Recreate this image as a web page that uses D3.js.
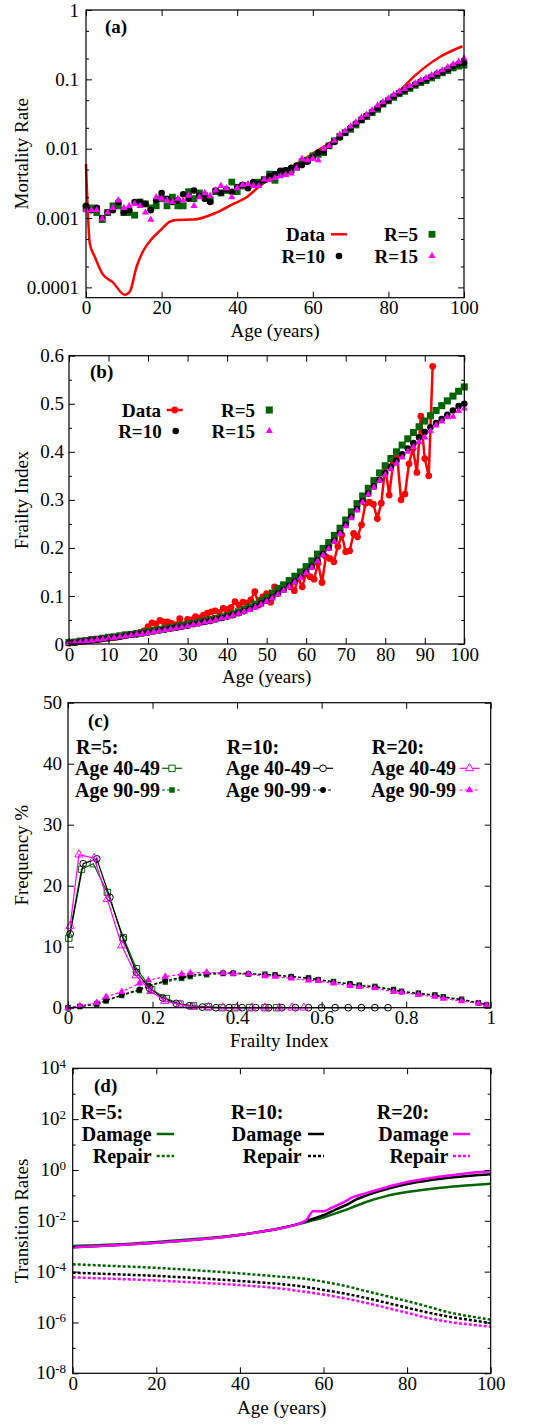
<!DOCTYPE html>
<html>
<head>
<meta charset="utf-8">
<script src="https://cdn.jsdelivr.net/npm/d3@7"></script>
<style>
  body { margin: 0; background: #fff; }
  svg { display: block; }
</style>
</head>
<body>
<svg width="543" height="1427"></svg>
<script>
// ---------- data ----------
// (a) mortality rate vs age
var mortDataAge = [0, 1, 2.4, 4.4, 7, 10.3, 11.6, 13.4, 15.2, 17.4, 19.6, 22.2, 24, 28.4, 34.5, 39, 42.5, 46, 49.5, 54.8, 60, 65.4, 70.7, 76, 81.2, 87.4, 93.6, 99.6];
var mortData = [0.006, 0.00043, 0.00027, 0.000155, 0.00012, 0.000078, 0.000087, 0.0002, 0.00034, 0.0005, 0.00066, 0.00089, 0.00094, 0.00095, 0.0012, 0.0016, 0.002, 0.0029, 0.0039, 0.0056, 0.0085, 0.013, 0.021, 0.033, 0.055, 0.118, 0.21, 0.30];

var ageSim = [0, 1.43, 2.86, 4.29, 5.71, 7.14, 8.57, 10, 11.43, 12.86, 14.29, 15.71, 17.14, 18.57, 20, 21.43, 22.86, 24.29, 25.71, 27.14, 28.57, 30, 31.43, 32.86, 34.29, 35.71, 37.14, 38.57, 40, 41.43, 42.86, 44.29, 45.71, 47.14, 48.57, 50, 51.43, 52.86, 54.29, 55.71, 57.14, 58.57, 60, 61.43, 62.86, 64.29, 65.71, 67.14, 68.57, 70, 71.43, 72.86, 74.29, 75.71, 77.14, 78.57, 80, 81.43, 82.86, 84.29, 85.71, 87.14, 88.57, 90, 91.43, 92.86, 94.29, 95.71, 97.14, 98.57, 100];

var mortR5 = [0.0014, 0.0014, 0.0012, 0.00095, 0.0012, 0.0015, 0.0015, 0.0012, 0.0012, 0.0011, 0.0017, 0.0016, 0.0014, 0.0015, 0.0019, 0.0015, 0.002, 0.0015, 0.0015, 0.0024, 0.0019, 0.0023, 0.0021, 0.0018, 0.0024, 0.0023, 0.0025, 0.0033, 0.0024, 0.0029, 0.0029, 0.0031, 0.0033, 0.0036, 0.0043, 0.0035, 0.0045, 0.0048, 0.0049, 0.0054, 0.0065, 0.0068, 0.0079, 0.0083, 0.0088, 0.011, 0.013, 0.015, 0.017, 0.019, 0.022, 0.026, 0.029, 0.033, 0.037, 0.044, 0.049, 0.055, 0.062, 0.067, 0.074, 0.082, 0.09, 0.096, 0.105, 0.113, 0.124, 0.134, 0.146, 0.155, 0.16];
var mortR10 = [0.0015, 0.0013, 0.0014, 0.001, 0.0012, 0.0013, 0.0017, 0.0012, 0.0013, 0.0017, 0.0017, 0.0016, 0.0013, 0.0018, 0.0023, 0.0019, 0.0017, 0.0018, 0.0022, 0.0019, 0.0025, 0.0021, 0.0019, 0.0017, 0.0025, 0.0023, 0.0026, 0.0024, 0.0028, 0.003, 0.0027, 0.0033, 0.0031, 0.0035, 0.004, 0.0043, 0.0048, 0.0049, 0.0053, 0.0057, 0.0058, 0.0065, 0.0075, 0.0088, 0.0091, 0.011, 0.0125, 0.0145, 0.017, 0.02, 0.023, 0.026, 0.03, 0.034, 0.039, 0.045, 0.05, 0.057, 0.064, 0.07, 0.077, 0.085, 0.093, 0.1, 0.11, 0.12, 0.128, 0.14, 0.155, 0.168, 0.175];
var mortR15 = [0.0013, 0.0013, 0.0013, 0.00098, 0.0012, 0.0014, 0.0018, 0.0014, 0.0015, 0.0016, 0.0015, 0.0012, 0.00095, 0.002, 0.0019, 0.0018, 0.0017, 0.0019, 0.0018, 0.0021, 0.0015, 0.002, 0.0023, 0.0021, 0.0025, 0.0029, 0.0027, 0.002, 0.0027, 0.003, 0.0031, 0.0029, 0.0029, 0.0036, 0.0035, 0.0038, 0.004, 0.0042, 0.0044, 0.0052, 0.0072, 0.0068, 0.0072, 0.0068, 0.01, 0.011, 0.013, 0.016, 0.018, 0.021, 0.024, 0.028, 0.031, 0.036, 0.042, 0.047, 0.053, 0.06, 0.067, 0.073, 0.08, 0.088, 0.097, 0.105, 0.115, 0.125, 0.135, 0.15, 0.165, 0.18, 0.2];

// (b) frailty index vs age
var fiDataAge = [0, 1, 2, 3, 4, 5, 6, 7, 8, 9, 10, 11, 12, 13, 14, 15, 16, 17, 18, 19, 20, 21, 22, 23, 24, 25, 26, 27, 28, 29, 30, 31, 32, 33, 34, 35, 36, 37, 38, 39, 40, 41, 42, 43, 44, 45, 46, 47, 48, 49, 50, 51, 52, 53, 54, 55, 56, 57, 58, 59, 60, 61, 62, 63, 64, 65, 66, 67, 68, 69, 70, 71, 72, 73, 74, 75, 76, 77, 78, 79, 80, 81, 82, 83, 84, 85, 86, 87, 88, 89, 90, 91, 92];
var fiData = [0.002, 0.003, 0.004, 0.005, 0.006, 0.007, 0.008, 0.009, 0.010, 0.011, 0.012, 0.013, 0.014, 0.016, 0.017, 0.019, 0.020, 0.022, 0.024, 0.028,
  0.036, 0.044, 0.042, 0.049, 0.046, 0.046, 0.043, 0.040, 0.053, 0.040, 0.051, 0.050, 0.057, 0.054, 0.060, 0.064, 0.067, 0.069, 0.066, 0.074,
  0.072, 0.076, 0.088, 0.081, 0.087, 0.085, 0.092, 0.109, 0.081, 0.098, 0.105, 0.087, 0.119, 0.116, 0.119, 0.121, 0.119, 0.111, 0.137, 0.119,
  0.147, 0.140, 0.135, 0.168, 0.128, 0.182, 0.178, 0.171, 0.203, 0.227, 0.192, 0.194, 0.230, 0.223, 0.248, 0.293, 0.295, 0.291, 0.261, 0.293,
  0.369, 0.310, 0.376, 0.393, 0.300, 0.312, 0.375, 0.407, 0.357, 0.474, 0.386, 0.350, 0.578];
var fiR5 = [0.003, 0.004, 0.006, 0.007, 0.009, 0.010, 0.012, 0.014, 0.015, 0.017, 0.019, 0.020, 0.022, 0.024, 0.026, 0.028, 0.030, 0.032, 0.034, 0.036, 0.039, 0.041, 0.043, 0.046, 0.048, 0.051, 0.053, 0.056, 0.059, 0.063, 0.067, 0.072, 0.077, 0.083, 0.090, 0.097, 0.106, 0.115, 0.123, 0.132, 0.141, 0.150, 0.161, 0.173, 0.187, 0.199, 0.211, 0.226, 0.241, 0.258, 0.275, 0.292, 0.308, 0.324, 0.340, 0.356, 0.371, 0.386, 0.400, 0.414, 0.427, 0.440, 0.452, 0.464, 0.475, 0.486, 0.496, 0.506, 0.516, 0.526, 0.535];
var fiR10 = [0.002, 0.003, 0.005, 0.006, 0.008, 0.009, 0.011, 0.012, 0.014, 0.015, 0.017, 0.019, 0.020, 0.022, 0.024, 0.026, 0.028, 0.030, 0.032, 0.034, 0.036, 0.038, 0.041, 0.043, 0.046, 0.048, 0.051, 0.054, 0.057, 0.060, 0.064, 0.068, 0.073, 0.078, 0.084, 0.090, 0.097, 0.105, 0.113, 0.121, 0.130, 0.140, 0.150, 0.161, 0.174, 0.187, 0.200, 0.215, 0.231, 0.248, 0.265, 0.281, 0.297, 0.313, 0.328, 0.342, 0.356, 0.369, 0.382, 0.395, 0.407, 0.418, 0.430, 0.441, 0.451, 0.460, 0.468, 0.477, 0.486, 0.495, 0.500];
var fiR15 = [0.002, 0.003, 0.004, 0.006, 0.007, 0.009, 0.010, 0.012, 0.013, 0.015, 0.016, 0.018, 0.020, 0.021, 0.023, 0.025, 0.027, 0.029, 0.031, 0.033, 0.035, 0.037, 0.040, 0.042, 0.045, 0.047, 0.050, 0.053, 0.056, 0.059, 0.063, 0.067, 0.071, 0.076, 0.082, 0.088, 0.095, 0.103, 0.111, 0.119, 0.128, 0.138, 0.148, 0.159, 0.172, 0.185, 0.198, 0.213, 0.229, 0.245, 0.262, 0.278, 0.295, 0.311, 0.326, 0.340, 0.352, 0.364, 0.376, 0.388, 0.400, 0.410, 0.420, 0.430, 0.443, 0.455, 0.463, 0.472, 0.473, 0.485, 0.490];

// (c) frailty distributions (frequency %)
var fiBinsR5a = [0.002, 0.032, 0.06, 0.093, 0.131, 0.162, 0.198, 0.233, 0.265, 0.297, 0.332, 0.364, 0.395, 0.43, 0.466, 0.494];
var freqR5a = [11.4, 22.7, 23.6, 18.9, 11.5, 6.4, 3.0, 1.5, 0.6, 0.3, 0.15, 0, 0, 0, 0, 0];
var fiBinsR10a = [0.005, 0.036, 0.068, 0.099, 0.130, 0.162, 0.193, 0.224, 0.256, 0.287, 0.318, 0.350, 0.381, 0.412, 0.444, 0.475, 0.506, 0.538, 0.569, 0.600, 0.632, 0.663, 0.694, 0.726, 0.757];
var freqR10a = [12.1, 23.6, 24.4, 18.1, 11.3, 5.8, 3.2, 1.6, 0.7, 0.3, 0.1, 0, 0, 0, 0, 0, 0, 0, 0, 0, 0, 0, 0, 0, 0];
var fiBinsR20a = [0.005, 0.026, 0.062, 0.093, 0.127, 0.161, 0.196, 0.229, 0.265, 0.297, 0.332, 0.366, 0.399, 0.435, 0.466, 0.5, 0.53, 0.558];
var freqR20a = [13.4, 25.1, 24.5, 17.8, 10.2, 5.3, 2.7, 1.1, 0.5, 0.15, 0.05, 0, 0, 0, 0, 0, 0, 0];
var fiBinsOld = [0, 0.028, 0.068, 0.09, 0.127, 0.169, 0.19, 0.23, 0.269, 0.289, 0.328, 0.367, 0.391, 0.427, 0.466, 0.49, 0.528, 0.569, 0.592, 0.628, 0.667, 0.689, 0.726, 0.77, 0.789, 0.829, 0.868, 0.888, 0.931, 0.971, 0.99];
var freqR5b = [0, 0.2, 0.5, 1.1, 2.0, 2.8, 3.6, 4.2, 4.8, 5.1, 5.4, 5.6, 5.6, 5.5, 5.5, 5.4, 5.1, 4.9, 4.6, 4.3, 3.9, 3.7, 3.5, 3.0, 2.7, 2.4, 2.1, 1.8, 1.4, 0.8, 0.5];
var freqR10b = [0, 0.2, 0.7, 1.2, 2.1, 3.0, 3.6, 4.4, 5.0, 5.3, 5.6, 5.7, 5.7, 5.6, 5.4, 5.3, 5.1, 4.8, 4.6, 4.2, 3.9, 3.6, 3.4, 2.9, 2.6, 2.3, 2.0, 1.7, 1.3, 0.8, 0.4];
var freqR20b = [0, 0.3, 0.8, 1.8, 2.6, 4.0, 4.5, 5.1, 5.5, 5.7, 5.8, 5.7, 5.6, 5.5, 5.2, 5.1, 4.8, 4.5, 4.4, 4.0, 3.6, 3.4, 3.2, 2.6, 2.5, 2.1, 1.8, 1.5, 1.1, 0.7, 0.4];

// (d) transition rates vs age
var dmgAgeR5 = [0, 10, 20, 30, 40, 45, 50, 54, 57, 60, 63, 66, 70, 75, 80, 85, 90, 95, 100];
var dmgR5 = [1.02e-3, 1.17e-3, 1.48e-3, 1.95e-3, 2.82e-3, 3.7e-3, 5.2e-3, 7.4e-3, 0.010, 0.0135, 0.020, 0.0295, 0.0537, 0.0933, 0.135, 0.174, 0.214, 0.251, 0.288];
var dmgAgeR10 = [0, 10, 20, 30, 40, 45, 50, 54, 57, 60, 63, 66, 68, 70, 73, 76, 80, 85, 90, 95, 100];
var dmgR10 = [9.1e-4, 1.1e-3, 1.38e-3, 1.82e-3, 2.75e-3, 3.7e-3, 5.2e-3, 7.6e-3, 0.0112, 0.0166, 0.0282, 0.0468, 0.0708, 0.0955, 0.141, 0.195, 0.282, 0.389, 0.49, 0.589, 0.676];
var dmgAgeR20 = [0, 10, 20, 30, 40, 45, 50, 54, 56, 57.5, 60, 62, 65, 67, 70, 73, 76, 80, 85, 90, 95, 100];
var dmgR20 = [9.1e-4, 1.1e-3, 1.38e-3, 1.82e-3, 2.75e-3, 3.7e-3, 5.2e-3, 7.6e-3, 0.0112, 0.024, 0.024, 0.033, 0.056, 0.085, 0.12, 0.166, 0.234, 0.339, 0.468, 0.60, 0.76, 0.89];
var repAge = [0, 10, 20, 30, 40, 50, 55, 60, 65, 70, 75, 80, 85, 90, 95, 100];
var repR5 = [1.95e-4, 1.66e-4, 1.41e-4, 1.12e-4, 8.5e-5, 6.3e-5, 5.4e-5, 4.0e-5, 2.8e-5, 1.74e-5, 1.1e-5, 6.9e-6, 4.2e-6, 2.5e-6, 1.74e-6, 1.3e-6];
var repR10 = [9.1e-5, 7.9e-5, 6.8e-5, 5.5e-5, 4.3e-5, 3.2e-5, 2.6e-5, 1.9e-5, 1.38e-5, 9.3e-6, 6.0e-6, 3.8e-6, 2.45e-6, 1.7e-6, 1.26e-6, 9.5e-7];
var repR20 = [6.0e-5, 5.2e-5, 4.5e-5, 3.7e-5, 2.95e-5, 2.14e-5, 1.66e-5, 1.26e-5, 8.9e-6, 6.0e-6, 3.8e-6, 2.4e-6, 1.5e-6, 1.05e-6, 8.3e-7, 6.9e-7];

// tick values
var ageTicks20 = [0, 20, 40, 60, 80, 100];
var ageTicks10 = [0, 10, 20, 30, 40, 50, 60, 70, 80, 90, 100];
var mortTicks = [0.0001, 0.001, 0.01, 0.1, 1];
var mortMinor = [0.0002, 0.0005, 0.002, 0.005, 0.02, 0.05, 0.2, 0.5];
var fiTicks = [0, 0.1, 0.2, 0.3, 0.4, 0.5, 0.6];
var fiMinor = [0.05, 0.15, 0.25, 0.35, 0.45, 0.55];
var freqTicks = [0, 10, 20, 30, 40, 50];
var binTicks = [0, 0.2, 0.4, 0.6, 0.8, 1];
var rateTicks = [1e-8, 1e-6, 1e-4, 1e-2, 1, 1e2, 1e4];
var rateExp = ["-8", "-6", "-4", "-2", "0", "2", "4"];
var rateMinor = [1e-7, 1e-5, 1e-3, 1e-1, 10, 1e3];

var GREEN = "#006400", MAG = "#ff00ff", RED = "#ff0000";
var FONT = "'Liberation Serif', 'Times New Roman', Times, serif";

var svg = d3.select("svg").attr("font-family", FONT);

var symType = {square: d3.symbolSquare, circle: d3.symbolCircle, triangle: d3.symbolTriangle};

function marks(g, xs, ys, x, y, type, size, fill, stroke) {
    g.append("g").selectAll("path")
        .data(xs)
        .enter().append("path")
        .attr("transform", function(d, i) { return "translate(" + x(d) + "," + y(ys[i]) + ")"; })
        .attr("d", d3.symbol().type(symType[type]).size(size))
        .attr("fill", fill)
        .attr("stroke", stroke || "none")
        .attr("stroke-width", 1);
}

function oneMark(g, cx, cy, type, size, fill, stroke) {
    g.append("path")
        .attr("transform", "translate(" + cx + "," + cy + ")")
        .attr("d", d3.symbol().type(symType[type]).size(size))
        .attr("fill", fill)
        .attr("stroke", stroke || "none")
        .attr("stroke-width", 1);
}

function path(g, xs, ys, x, y, color, width, dash, curve) {
    var line = d3.line()
        .x(function(d) { return x(d); })
        .y(function(d, i) { return y(ys[i]); });
    if (curve) line.curve(curve);
    g.append("path")
        .datum(xs)
        .attr("d", line)
        .attr("fill", "none")
        .attr("stroke", color)
        .attr("stroke-width", width)
        .attr("stroke-dasharray", dash || null);
}

function txt(g, x, y, s, opts) {
    opts = opts || {};
    return g.append("text")
        .attr("x", x).attr("y", y)
        .attr("font-size", opts.size || 19)
        .attr("font-weight", opts.bold ? "bold" : null)
        .attr("text-anchor", opts.anchor || "start")
        .attr("dy", opts.dy || null)
        .attr("transform", opts.rotate ? "rotate(-90," + x + "," + y + ")" : null)
        .text(s);
}

// frame with gnuplot-like inward mirrored ticks
function frame(x, y, o) {
    var g = svg.append("g");
    var x0 = x.range()[0], x1 = x.range()[1], yb = y.range()[0], yt = y.range()[1];

    function ax(axis, tx, ty, vals, len, fmt, pad) {
        var a = g.append("g")
            .attr("transform", "translate(" + tx + "," + ty + ")")
            .call(axis.tickValues(vals).tickSize(-len).tickPadding(pad || 3).tickFormat(fmt || function() { return ""; }));
        a.select(".domain").remove();
        a.attr("font-family", FONT).attr("font-size", 19);
        a.selectAll("line").attr("stroke", "#000");
        a.selectAll("text").attr("fill", "#000");
        return a;
    }

    ax(d3.axisBottom(x), 0, yb, o.xTicks, 6, o.xFmt, o.xPad);
    ax(d3.axisTop(x), 0, yt, o.xTicks, 6);
    ax(d3.axisLeft(y), x0, 0, o.yTicks, 6, o.yFmt, o.yPad);
    ax(d3.axisRight(y), x1, 0, o.yTicks, 6);
    if (o.yMinor) {
        ax(d3.axisLeft(y), x0, 0, o.yMinor, 3);
        ax(d3.axisRight(y), x1, 0, o.yMinor, 3);
    }

    g.append("rect")
        .attr("x", x0).attr("y", yt)
        .attr("width", x1 - x0).attr("height", yb - yt)
        .attr("fill", "none")
        .attr("stroke", "#000")
        .attr("stroke-width", 1.2);
    return g;
}

var fmt = d3.format("~g");

// ================= (a) =================
var xA = d3.scaleLinear().domain([0, 100]).range([86, 464]),
    yA = d3.scaleLog().domain([7.1e-5, 1]).range([297.7, 10]);

var gA = svg.append("g");
path(gA, mortDataAge, mortData, xA, yA, RED, 2.5, null, d3.curveMonotoneX);
marks(gA, ageSim, mortR5, xA, yA, "square", 46, GREEN);
marks(gA, ageSim, mortR10, xA, yA, "circle", 34, "#000");
marks(gA, ageSim, mortR15, xA, yA, "triangle", 22, MAG);

frame(xA, yA, {xTicks: ageTicks20, xFmt: fmt, yTicks: mortTicks, yMinor: mortMinor, yFmt: fmt, yPad: 7});

txt(gA, 105, 26, "(a)", {bold: true, dy: "0.35em"});
txt(gA, 275, 337, "Age (years)", {anchor: "middle"});
txt(gA, 28, 153.8, "Mortality Rate", {anchor: "middle", rotate: true});

// legend (a)
txt(gA, 325, 234.3, "Data", {bold: true, anchor: "end", dy: "0.35em"});
gA.append("line").attr("x1", 331).attr("x2", 347).attr("y1", 234.3).attr("y2", 234.3)
    .attr("stroke", RED).attr("stroke-width", 2.5);
txt(gA, 418, 234.3, "R=5", {bold: true, anchor: "end", dy: "0.35em"});
oneMark(gA, 432, 234.3, "square", 46, GREEN);
txt(gA, 325, 256, "R=10", {bold: true, anchor: "end", dy: "0.35em"});
oneMark(gA, 339, 256, "circle", 34, "#000");
txt(gA, 418, 256, "R=15", {bold: true, anchor: "end", dy: "0.35em"});
oneMark(gA, 432, 256, "triangle", 22, MAG);

// ================= (b) =================
var xB = d3.scaleLinear().domain([0, 100]).range([69, 464.3]),
    yB = d3.scaleLinear().domain([0, 0.6]).range([644, 355.7]);

var gB = svg.append("g");
path(gB, fiDataAge, fiData, xB, yB, RED, 2.5);
marks(gB, fiDataAge, fiData, xB, yB, "circle", 36, RED);
marks(gB, ageSim, fiR5, xB, yB, "square", 50, GREEN);
marks(gB, ageSim, fiR10, xB, yB, "circle", 34, "#000");
marks(gB, ageSim, fiR15, xB, yB, "triangle", 22, MAG);

frame(xB, yB, {xTicks: ageTicks10, xFmt: fmt, yTicks: fiTicks, yMinor: fiMinor, yFmt: fmt, yPad: 5});

txt(gB, 90, 371.7, "(b)", {bold: true, dy: "0.35em"});
txt(gB, 266.7, 682.5, "Age (years)", {anchor: "middle"});
txt(gB, 28, 500, "Frailty Index", {anchor: "middle", rotate: true});

// legend (b)
txt(gB, 161, 410, "Data", {bold: true, anchor: "end", dy: "0.35em"});
gB.append("line").attr("x1", 166.7).attr("x2", 182.7).attr("y1", 410).attr("y2", 410)
    .attr("stroke", RED).attr("stroke-width", 2.5);
oneMark(gB, 174.7, 410, "circle", 36, RED);
txt(gB, 255, 410, "R=5", {bold: true, anchor: "end", dy: "0.35em"});
oneMark(gB, 269.3, 410, "square", 50, GREEN);
txt(gB, 161.7, 431, "R=10", {bold: true, anchor: "end", dy: "0.35em"});
oneMark(gB, 175.7, 431, "circle", 34, "#000");
txt(gB, 255, 431, "R=15", {bold: true, anchor: "end", dy: "0.35em"});
oneMark(gB, 269.3, 431, "triangle", 22, MAG);

// ================= (c) =================
var xC = d3.scaleLinear().domain([0, 1]).range([68, 490.7]),
    yC = d3.scaleLinear().domain([0, 50]).range([1007.7, 702.7]);

var gC = svg.append("g");
// 90-99 (dashed, filled)
path(gC, fiBinsOld, freqR5b, xC, yC, GREEN, 1.2, "3,2");
marks(gC, fiBinsOld, freqR5b, xC, yC, "square", 30, GREEN);
path(gC, fiBinsOld, freqR10b, xC, yC, "#000", 1.2, "3,2");
marks(gC, fiBinsOld, freqR10b, xC, yC, "circle", 26, "#000");
path(gC, fiBinsOld, freqR20b, xC, yC, MAG, 1.2, "3,2");
marks(gC, fiBinsOld, freqR20b, xC, yC, "triangle", 24, MAG);
// 40-49 (solid, open)
path(gC, fiBinsR5a, freqR5a, xC, yC, GREEN, 1.2);
marks(gC, fiBinsR5a, freqR5a, xC, yC, "square", 40, "none", GREEN);
path(gC, fiBinsR10a, freqR10a, xC, yC, "#000", 1.2);
marks(gC, fiBinsR10a, freqR10a, xC, yC, "circle", 36, "none", "#000");
path(gC, fiBinsR20a, freqR20a, xC, yC, MAG, 1.2);
marks(gC, fiBinsR20a, freqR20a, xC, yC, "triangle", 30, "none", MAG);

frame(xC, yC, {xTicks: binTicks, xFmt: fmt, yTicks: freqTicks, yFmt: fmt, yPad: 6});

txt(gC, 88, 720, "(c)", {bold: true, dy: "0.35em"});
txt(gC, 279.3, 1046.5, "Frailty Index", {anchor: "middle"});
txt(gC, 28, 855.2, "Frequency %", {anchor: "middle", rotate: true});

// legend (c)
var legC = [
    {head: "R=5:", hx: 76, end: 160, cx: 172, color: GREEN, type: "square", sa: 40, sb: 30},
    {head: "R=10:", hx: 226.7, end: 310.7, cx: 323, color: "#000", type: "circle", sa: 36, sb: 26},
    {head: "R=20:", hx: 371.7, end: 456, cx: 469.5, color: MAG, type: "triangle", sa: 30, sb: 24}
];
legC.forEach(function(c) {
    txt(gC, c.hx, 746.7, c.head, {bold: true, size: 20, dy: "0.35em"});
    txt(gC, c.end, 768.3, "Age 40-49", {bold: true, size: 20, anchor: "end", dy: "0.35em"});
    txt(gC, c.end, 790, "Age 90-99", {bold: true, size: 20, anchor: "end", dy: "0.35em"});
    gC.append("line").attr("x1", c.cx - 10).attr("x2", c.cx + 10).attr("y1", 768.3).attr("y2", 768.3)
        .attr("stroke", c.color).attr("stroke-width", 1.2);
    oneMark(gC, c.cx, 768.3, c.type, c.sa, "#fff", c.color);
    gC.append("line").attr("x1", c.cx - 10).attr("x2", c.cx + 10).attr("y1", 790).attr("y2", 790)
        .attr("stroke", c.color).attr("stroke-width", 1.2).attr("stroke-dasharray", "3,2");
    oneMark(gC, c.cx, 790, c.type, c.sb, c.color);
});

// ================= (d) =================
var xD = d3.scaleLinear().domain([0, 100]).range([72.7, 490.7]),
    yD = d3.scaleLog().domain([1e-8, 1e4]).range([1373.3, 1068.3]);

var gD = svg.append("g");
path(gD, repAge, repR5, xD, yD, GREEN, 2.5, "3,2", d3.curveMonotoneX);
path(gD, repAge, repR10, xD, yD, "#000", 2.5, "3,2", d3.curveMonotoneX);
path(gD, repAge, repR20, xD, yD, MAG, 2.5, "3,2", d3.curveMonotoneX);
path(gD, dmgAgeR5, dmgR5, xD, yD, GREEN, 2.5, null, d3.curveMonotoneX);
path(gD, dmgAgeR10, dmgR10, xD, yD, "#000", 2.5, null, d3.curveMonotoneX);
path(gD, dmgAgeR20, dmgR20, xD, yD, MAG, 2.5, null, d3.curveMonotoneX);

frame(xD, yD, {xTicks: ageTicks20, xFmt: fmt, yTicks: rateTicks, yMinor: rateMinor});

// y labels as 10^n
gD.selectAll("text.rate")
    .data(rateTicks)
    .enter().append("text")
    .attr("class", "rate")
    .attr("x", 66)
    .attr("y", function(d) { return yD(d); })
    .attr("dy", "0.32em")
    .attr("font-size", 19)
    .attr("text-anchor", "end")
    .each(function(d, i) {
        var t = d3.select(this);
        t.append("tspan").text("10");
        t.append("tspan").attr("dy", "-0.5em").attr("font-size", 13).text(rateExp[i]);
    });

txt(gD, 94, 1085, "(d)", {bold: true, dy: "0.35em"});
txt(gD, 281.7, 1414, "Age (years)", {anchor: "middle"});
txt(gD, 28, 1220.8, "Transition Rates", {anchor: "middle", rotate: true});

// legend (d)
var legD = [
    {head: "R=5:", hx: 80.7, end: 151.7, x1: 156.7, x2: 174, color: GREEN},
    {head: "R=10:", hx: 231, end: 301.7, x1: 308, x2: 324, color: "#000"},
    {head: "R=20:", hx: 376.7, end: 448.3, x1: 453, x2: 470, color: MAG}
];
legD.forEach(function(c) {
    txt(gD, c.hx, 1111.7, c.head, {bold: true, size: 20, dy: "0.35em"});
    txt(gD, c.end, 1134, "Damage", {bold: true, size: 20, anchor: "end", dy: "0.35em"});
    txt(gD, c.end, 1156, "Repair", {bold: true, size: 20, anchor: "end", dy: "0.35em"});
    gD.append("line").attr("x1", c.x1).attr("x2", c.x2).attr("y1", 1134).attr("y2", 1134)
        .attr("stroke", c.color).attr("stroke-width", 2.5);
    gD.append("line").attr("x1", c.x1).attr("x2", c.x2).attr("y1", 1156).attr("y2", 1156)
        .attr("stroke", c.color).attr("stroke-width", 2.5).attr("stroke-dasharray", "3,2");
});
</script>
</body>
</html>
